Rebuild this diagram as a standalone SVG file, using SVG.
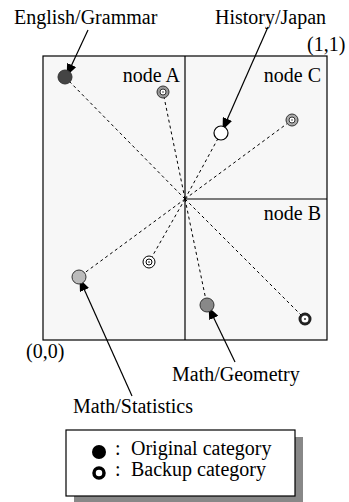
<svg xmlns="http://www.w3.org/2000/svg" width="349" height="502" viewBox="0 0 349 502">
<style>
text{font-family:"Liberation Serif","Times New Roman",serif;font-size:20px;fill:#000}
.dash{stroke:#000;stroke-width:1;stroke-dasharray:3,3;fill:none}
.arr{stroke:#000;stroke-width:1.2;fill:none}
.orig{stroke:#333;stroke-width:1}
</style>
<defs>
<marker id="ah" viewBox="0 0 12 10" refX="11" refY="5" markerWidth="12" markerHeight="10" markerUnits="userSpaceOnUse" orient="auto">
<path d="M0,0 L12,5 L0,10 Z" fill="#000"/>
</marker>
</defs>
<rect width="349" height="502" fill="#fff"/>
<g id="space">
<rect x="43" y="56" width="284" height="284" fill="#f7f7f7" stroke="#000" stroke-width="1.2"/>
<line x1="185" y1="56" x2="185" y2="340" stroke="#000" stroke-width="1.2"/>
<line x1="185" y1="199" x2="327" y2="199" stroke="#000" stroke-width="1.2"/>
<text x="180" y="82" text-anchor="end">node A</text>
<text x="321" y="82" text-anchor="end">node C</text>
<text x="321" y="220" text-anchor="end">node B</text>
<text x="307" y="51">(1,1)</text>
<text x="26" y="358">(0,0)</text>
</g>
<g id="connectors">
<line class="dash" x1="185" y1="199" x2="65" y2="77"/>
<line class="dash" x1="185" y1="199" x2="163" y2="92"/>
<line class="dash" x1="185" y1="199" x2="221" y2="133"/>
<line class="dash" x1="185" y1="199" x2="292" y2="120"/>
<line class="dash" x1="185" y1="199" x2="79" y2="277"/>
<line class="dash" x1="185" y1="199" x2="149" y2="262"/>
<line class="dash" x1="185" y1="199" x2="207" y2="305"/>
<line class="dash" x1="185" y1="199" x2="305" y2="319"/>
<line class="arr" x1="88" y1="30" x2="67" y2="75" marker-end="url(#ah)"/>
<line class="arr" x1="268" y1="27" x2="223" y2="129" marker-end="url(#ah)"/>
<line class="arr" x1="132" y1="396" x2="80" y2="280" marker-end="url(#ah)"/>
<line class="arr" x1="235" y1="362" x2="209" y2="308" marker-end="url(#ah)"/>
</g>
<g id="english-grammar">
<circle class="orig" cx="65" cy="77" r="7" fill="#444"/>
<text x="14" y="24">English/Grammar</text>
</g>
<g id="history-japan">
<circle cx="221" cy="133" r="7" fill="#fff" stroke="#000" stroke-width="1.2"/>
<text x="215" y="24">History/Japan</text>
</g>
<g id="math-statistics">
<circle class="orig" cx="79" cy="277" r="7" fill="#bbb"/>
<text x="73" y="413">Math/Statistics</text>
</g>
<g id="math-geometry">
<circle class="orig" cx="207" cy="305" r="7" fill="#888"/>
<text x="172" y="381">Math/Geometry</text>
</g>
<g id="backup-a">
<circle cx="163" cy="92" r="6" fill="#999" stroke="#333" stroke-width="1"/>
<circle cx="163" cy="92" r="3" fill="#fff" stroke="#333" stroke-width="1"/>
<circle cx="163" cy="92" r="0.8" fill="#333"/>
</g>
<g id="backup-c">
<circle cx="292" cy="120" r="6" fill="#aaa" stroke="#333" stroke-width="1"/>
<circle cx="292" cy="120" r="3" fill="#fff" stroke="#333" stroke-width="1"/>
<circle cx="292" cy="120" r="0.8" fill="#333"/>
</g>
<g id="backup-stat">
<circle cx="149" cy="262" r="6" fill="#fff" stroke="#000" stroke-width="1"/>
<circle cx="149" cy="262" r="3" fill="#fff" stroke="#000" stroke-width="1"/>
<circle cx="149" cy="262" r="0.8" fill="#000"/>
</g>
<g id="backup-b">
<circle cx="305" cy="319" r="5" fill="#fff" stroke="#222" stroke-width="3"/>
<circle cx="305" cy="319" r="1" fill="#333"/>
</g>
<g id="legend">
<rect x="74" y="437" width="229" height="66" fill="#888"/>
<rect x="66" y="430" width="229" height="66" fill="#fff" stroke="#000" stroke-width="1.2"/>
<circle cx="99" cy="452" r="7" fill="#000"/>
<circle cx="99" cy="473" r="5" fill="#fff" stroke="#000" stroke-width="3.5"/>
<text x="115" y="455">:</text>
<text x="131" y="455">Original category</text>
<text x="115" y="476">:</text>
<text x="131" y="476">Backup category</text>
</g>
</svg>
